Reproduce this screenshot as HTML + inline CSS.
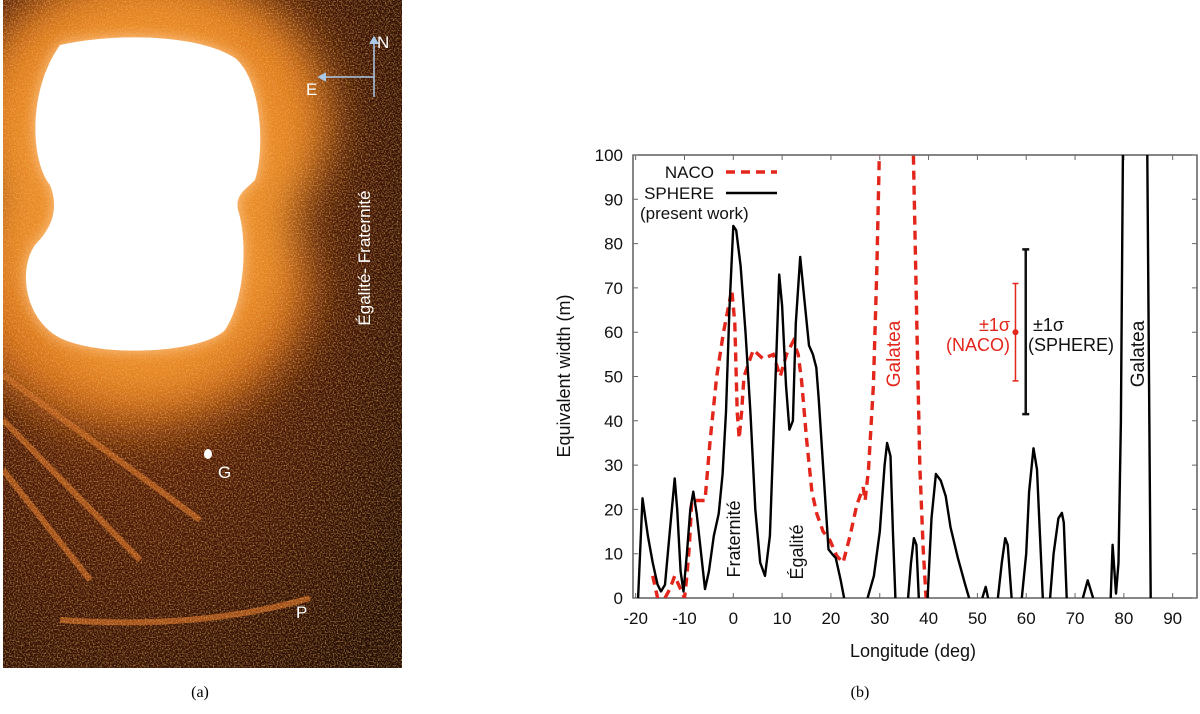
<!DOCTYPE html>
<html><head><meta charset="utf-8">
<style>
html,body{margin:0;padding:0;background:#fff;}
body{width:1200px;height:709px;position:relative;overflow:hidden;font-family:"Liberation Sans",Arial,sans-serif;}
svg text{font-family:"Liberation Sans",Arial,sans-serif;}
</style></head>
<body>
<svg width="1200" height="709" viewBox="0 0 1200 709" xmlns="http://www.w3.org/2000/svg">
<defs>
  <filter id="blur20" x="-50%" y="-50%" width="200%" height="200%"><feGaussianBlur stdDeviation="22"/></filter>
  <filter id="blur6" x="-50%" y="-50%" width="200%" height="200%"><feGaussianBlur stdDeviation="7"/></filter>
  <filter id="noise" x="0" y="0" width="100%" height="100%">
    <feTurbulence type="fractalNoise" baseFrequency="0.75" numOctaves="1" seed="3"/>
    <feColorMatrix values="0 0 0 0 0.95  0 0 0 0 0.5  0 0 0 0 0.12  0 0 0 2.2 -0.95"/>
  </filter>
  <radialGradient id="bgGrad" cx="0.3" cy="0.3" r="0.9">
    <stop offset="0" stop-color="#8a3a0c"/>
    <stop offset="0.5" stop-color="#4a1806"/>
    <stop offset="1" stop-color="#1c0802"/>
  </radialGradient>
  <clipPath id="imgClip"><rect x="3" y="0" width="399" height="668"/></clipPath>
  <clipPath id="plotClip"><rect x="633" y="155" width="564" height="443"/></clipPath>
</defs>

<g clip-path="url(#imgClip)">
  <rect x="3" y="0" width="399" height="668" fill="url(#bgGrad)"/>
  <g filter="url(#blur20)">
    <ellipse cx="150" cy="120" rx="180" ry="150" fill="#e07a1e"/>
    <ellipse cx="135" cy="285" rx="175" ry="140" fill="#d26a18"/>
    <ellipse cx="145" cy="200" rx="150" ry="190" fill="#ea8a28"/>
  </g>
  <g stroke="#c06020" stroke-width="6" opacity="0.75" fill="none">
    <path d="M3 375 L200 520"/>
    <path d="M3 420 L140 560"/>
    <path d="M3 470 L90 580"/>
    <path d="M60 620 Q200 630 310 598"/>
  </g>
  <rect x="3" y="0" width="399" height="668" filter="url(#noise)" opacity="0.85"/>
  <path filter="url(#blur6)" fill="#ffc890" d="M60 45 C120 32 200 35 235 58 C262 80 265 150 255 180 C245 190 235 195 238 210 C248 240 245 300 225 330 C200 355 90 358 55 335 C25 315 18 270 35 245 C55 225 58 205 50 185 C30 160 28 90 60 45 Z"/>
  <path fill="#fff" d="M60 45 C120 32 200 35 235 58 C262 80 265 150 255 180 C245 190 235 195 238 210 C248 240 245 300 225 330 C200 355 90 358 55 335 C25 315 18 270 35 245 C55 225 58 205 50 185 C30 160 28 90 60 45 Z"/>
  <ellipse cx="208" cy="454" rx="4" ry="5" fill="#fff"/>
  <text x="218" y="478" fill="#fff" font-size="17">G</text>
  <text x="296" y="618" fill="#fff" font-size="17">P</text>
  <g stroke="#aac8e8" stroke-width="1.5" fill="none">
    <path d="M374 97 L374 40 M322 77 L374 77"/>
    <path d="M370 44 L374 37 L378 44 M326 73 L319 77 L326 81" fill="#aac8e8"/>
  </g>
  <text x="377" y="48" fill="#fff" font-size="17">N</text>
  <text x="306" y="95" fill="#fff" font-size="17">E</text>
  <text transform="translate(370,258) rotate(-90)" text-anchor="middle" fill="#fff" font-size="17">Égalité- Fraternité</text>
</g>
<text x="200" y="697" text-anchor="middle" font-size="16" style="font-family:'Liberation Serif',serif">(a)</text>
<text x="860" y="697" text-anchor="middle" font-size="16" style="font-family:'Liberation Serif',serif">(b)</text>

<g id="chart"></g>
</svg>

<script>
const xTicks = [-20,-10,0,10,20,30,40,50,60,70,80,90];
const yTicks = [0,10,20,30,40,50,60,70,80,90,100];
const spherePts = [
 [-19.5,0],[-18.6,22.5],[-17.5,14],[-16.5,8],[-15.5,3],[-14.8,1.5],[-14,3],[-13,15],[-12,27],[-11.5,20],[-10.8,6],[-10.2,1.5],[-9.5,10],[-8.8,20],[-8.2,24],[-7.5,19],[-6.5,9],[-5.8,2],[-5,6],[-4,14],[-3,19],[-2.2,28],[-1.5,42],[-0.8,65],[0,84],[0.6,83],[1.5,75],[2.5,60],[3.5,42],[4.5,20],[5.5,8],[6.5,5],[7.5,14],[8.5,45],[9.4,73],[10,66],[10.8,48],[11.5,38],[12.2,40],[12.8,62],[13.7,77],[14.5,68],[15.5,57],[16.3,55],[17,52],[17.5,45],[18.5,28],[19.5,11],[20.2,10],[21,9],[22,4],[22.7,0],
 null,
 [27.5,0],[28.8,5],[30,15],[31,30],[31.5,35],[32.2,32],[32.7,15],[33.2,0],
 null,
 [35.8,0],[36.4,8],[37,13.5],[37.5,12],[38,0],
 null,
 [39.8,0],[40.6,18],[41.5,28],[42.5,26.5],[43.5,23],[44.5,16],[46,9],[47.5,3],[48.3,0],
 null,
 [51,0],[51.7,2.5],[52.2,0],
 null,
 [54.2,0],[55,8],[55.7,13.5],[56.2,12],[57,0],
 null,
 [59.1,0],[60,10],[60.6,24],[61.5,33.8],[62.2,29],[63.4,0],
 null,
 [64.9,0],[65.6,10],[66.6,18],[67.3,19.2],[67.7,17],[68.3,0],
 null,
 [71.6,0],[72.6,4],[73.7,0],
 null,
 [77.3,0],[77.7,12],[78.4,1],[78.9,8],[79.4,40],[79.8,100],[80,130],
 null,
 [84.6,130],[84.8,100],[85.5,0]
];
const nacoPts = [
 [-16.5,5],[-15.5,0],[-14,0],[-13,2],[-12,5],[-11,2.5],[-10,0],[-9.5,5],[-9,12],[-8.5,22],[-6.8,22],[-5.8,22],[-4.8,35],[-3.4,50],[-2,60],[-0.3,69.6],[0.3,62],[0.8,42],[1.2,36],[1.7,42],[2.2,50],[4.1,56],[6.1,54],[8.2,55],[9.6,50],[10.9,55],[12.3,58],[13.3,55],[14,49],[15,36],[16.1,24],[17.1,19],[18.4,15],[19.8,13],[21.2,9.5],[22.5,8],[23.9,14],[25.3,21],[26.6,25],[27,22],[27.7,29],[28.7,48],[29.4,74],[29.9,100],[30,110],
 null,
 [36.8,110],[36.9,100],[37.6,61],[38.2,30],[38.9,11],[39.5,0]
];
const nacoErr = {x:57.8, y:60, lo:49, hi:71};
const sphereErr = {x:59.9, lo:41.5, hi:78.7};

const L=633, T=155, R=1197, B=598;
function sx(v){return 733.3 + v*4.882;}
function sy(v){return 598 - v*4.43;}
const NS="http://www.w3.org/2000/svg";
const g=document.getElementById('chart');
function mk(tag, attrs, parent){const e=document.createElementNS(NS,tag);for(const k in attrs)e.setAttribute(k,attrs[k]);(parent||g).appendChild(e);return e;}

const frame=mk('rect',{x:L,y:T,width:R-L,height:B-T,fill:'none',stroke:'#444','stroke-width':1.3});



xTicks.forEach(t=>{
  const x=sx(t);
  const tk=mk('path',{d:`M${x} ${B} v-5 M${x} ${T} v5`,stroke:'#666','stroke-width':1});
  
  
  const lb=mk('text',{x:x,y:624,'text-anchor':'middle','font-size':17,fill:'#111'});
  lb.textContent=t;
  
  
});
yTicks.forEach(t=>{
  const y=sy(t);
  const tk=mk('path',{d:`M${L} ${y} h5 M${R} ${y} h-5`,stroke:'#666','stroke-width':1});
  
  
  const lb=mk('text',{x:623,y:y+6,'text-anchor':'end','font-size':17,fill:'#111'});
  lb.textContent=t;
  
  
});
const xt=mk('text',{x:913,y:657,'text-anchor':'middle','font-size':18,fill:'#111'});
xt.textContent='Longitude (deg)';


const yt=mk('text',{transform:'translate(570,376) rotate(-90)','text-anchor':'middle','font-size':18,fill:'#111'});
yt.textContent='Equivalent width (m)';



function pathFrom(pts){let d='',start=true;pts.forEach(p=>{if(!p){start=true;return;}d+=(start?'M':'L')+sx(p[0]).toFixed(1)+' '+sy(p[1]).toFixed(1)+' ';start=false;});return d;}
const pg=mk('g',{'clip-path':'url(#plotClip)'});
const nl=mk('path',{d:pathFrom(nacoPts),fill:'none',stroke:'#e3261b','stroke-width':3.4,'stroke-dasharray':'9 6'},pg);


const sl=mk('path',{d:pathFrom(spherePts),fill:'none',stroke:'#000','stroke-width':2.4,'stroke-linejoin':'round'},pg);



const ne=mk('path',{d:`M${sx(nacoErr.x)} ${sy(nacoErr.lo)} V${sy(nacoErr.hi)} M${sx(nacoErr.x)-3} ${sy(nacoErr.lo)} h6 M${sx(nacoErr.x)-3} ${sy(nacoErr.hi)} h6`,stroke:'#e3261b','stroke-width':1.5});


const nd=mk('circle',{cx:sx(nacoErr.x),cy:sy(nacoErr.y),r:3,fill:'#e3261b'});


const se=mk('path',{d:`M${sx(sphereErr.x)} ${sy(sphereErr.lo)} V${sy(sphereErr.hi)} M${sx(sphereErr.x)-3.5} ${sy(sphereErr.lo)} h7 M${sx(sphereErr.x)-3.5} ${sy(sphereErr.hi)} h7`,stroke:'#111','stroke-width':2.5});



function txt(s,attrs,name){const e=mk('text',attrs);e.textContent=s;return e;}
txt('±1σ',{x:1010,y:331,'text-anchor':'end','font-size':18,fill:'#e3261b'},'naco-sigma-label');
txt('(NACO)',{x:1010,y:351,'text-anchor':'end','font-size':18,fill:'#e3261b'},'naco-sigma-sub');
txt('±1σ',{x:1033,y:331,'font-size':18,fill:'#111'},'sphere-sigma-label');
txt('(SPHERE)',{x:1028,y:351,'font-size':18,fill:'#111'},'sphere-sigma-sub');
txt('Fraternité',{transform:'translate(740,539) rotate(-90)','text-anchor':'middle','font-size':18,fill:'#111'},'fraternite-label');
txt('Égalité',{transform:'translate(803,552) rotate(-90)','text-anchor':'middle','font-size':18,fill:'#111'},'egalite-label');
txt('Galatea',{transform:'translate(900,354) rotate(-90)','text-anchor':'middle','font-size':19,fill:'#e3261b'},'galatea-naco-label');
txt('Galatea',{transform:'translate(1144,354) rotate(-90)','text-anchor':'middle','font-size':19,fill:'#111'},'galatea-sphere-label');

txt('NACO',{x:714,y:178,'text-anchor':'end','font-size':17,fill:'#111'},'legend-naco-label');
const l1=mk('path',{d:'M726 172 H777',stroke:'#e3261b','stroke-width':3.4,'stroke-dasharray':'9 6'});


txt('SPHERE',{x:714,y:199,'text-anchor':'end','font-size':17,fill:'#111'},'legend-sphere-label');
const l2=mk('path',{d:'M726 193 H777',stroke:'#000','stroke-width':2.4});


txt('(present work)',{x:640,y:219,'font-size':17,fill:'#111'},'legend-sphere-note');
</script>
</body></html>
